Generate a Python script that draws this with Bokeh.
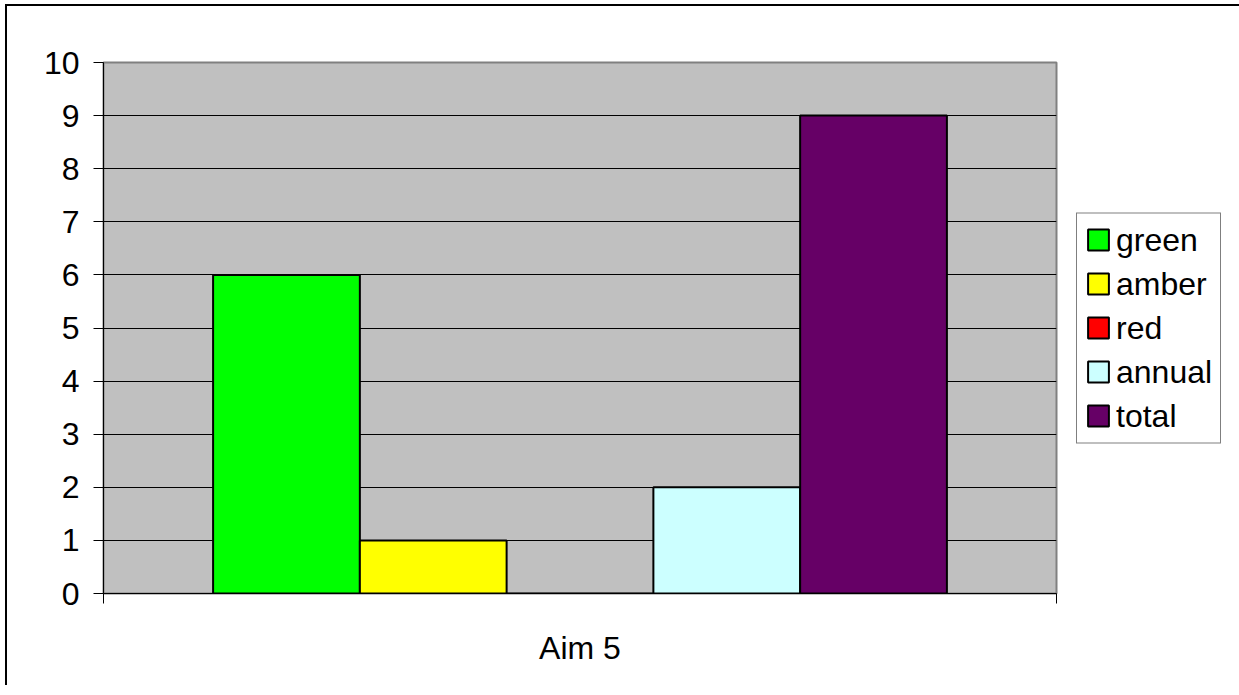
from bokeh.plotting import figure
from bokeh.models import FixedTicker, Range1d, Legend, LegendItem
from bokeh.embed import file_html
from bokeh.resources import INLINE

# ---- data ----
categories = ["Aim 5"]
series = ["green", "amber", "red", "annual", "total"]
values = [6, 1, 0, 2, 9]
colors = ["#00FF00", "#FFFF00", "#FF0000", "#CCFFFF", "#660066"]
y_ticks = [0, 1, 2, 3, 4, 5, 6, 7, 8, 9, 10]

FONT = "Liberation Sans"
FS = "32px"

# outer border on left/top (as in reference): figure offset by 5px + 2px border
p = figure(frame_width=953, frame_height=531,
           min_border_left=103 - 7, min_border_top=62 - 6,
           min_border_bottom=102 - 10, min_border_right=183 - 10,
           x_range=Range1d(0, 1), y_range=Range1d(0, 10),
           output_backend="svg", toolbar_location=None)
p.styles = {"margin-left": "5px", "margin-top": "4px",
            "border-left": "2px solid black", "border-top": "2px solid black"}
p.background_fill_color = "#C0C0C0"
p.border_fill_color = "white"
p.outline_line_color = "#808080"
p.outline_line_width = 2

group_w = 0.77
w = group_w / len(series)
items = []
for i, (name, v, c) in enumerate(zip(series, values, colors)):
    xc = 0.5 + (i - (len(series) - 1) / 2) * w
    r = p.vbar(x=[xc], top=[v], width=w, bottom=0, fill_color=c,
               line_color="black", line_width=2)
    items.append(LegendItem(label=name, renderers=[r]))

# axes
p.xaxis.ticker = FixedTicker(ticks=[0.5], minor_ticks=[0, 1])
p.xaxis.major_label_overrides = {0.5: categories[0]}
p.xaxis.major_tick_out = 0
p.xaxis.major_tick_in = 0
p.xaxis.minor_tick_out = 10
p.xaxis.minor_tick_in = 0
p.xaxis.minor_tick_line_color = "black"
p.xaxis.major_label_standoff = 26
p.xaxis.axis_line_color = "black"

p.yaxis.ticker = FixedTicker(ticks=y_ticks)
p.yaxis.major_tick_out = 10
p.yaxis.major_tick_in = 0
p.yaxis.major_tick_line_color = "black"
p.yaxis.major_label_standoff = 14
p.yaxis.axis_line_color = "black"

for ax in (p.xaxis, p.yaxis):
    ax.major_label_text_font = FONT
    ax.major_label_text_font_size = FS
    ax.major_label_text_color = "black"

p.xgrid.visible = False
p.ygrid.ticker = FixedTicker(ticks=y_ticks)
p.ygrid.grid_line_color = "black"
p.ygrid.grid_line_width = 1

legend = Legend(items=items, location="center_left", margin=20,
                padding=8, spacing=7, glyph_width=26, glyph_height=26,
                label_standoff=5, label_text_font=FONT,
                label_text_font_size=FS, label_text_color="black",
                border_line_color="black", border_line_width=1,
                background_fill_color="white", background_fill_alpha=1)
p.add_layout(legend, "right")

open("out.html", "w").write(file_html(p, INLINE))
